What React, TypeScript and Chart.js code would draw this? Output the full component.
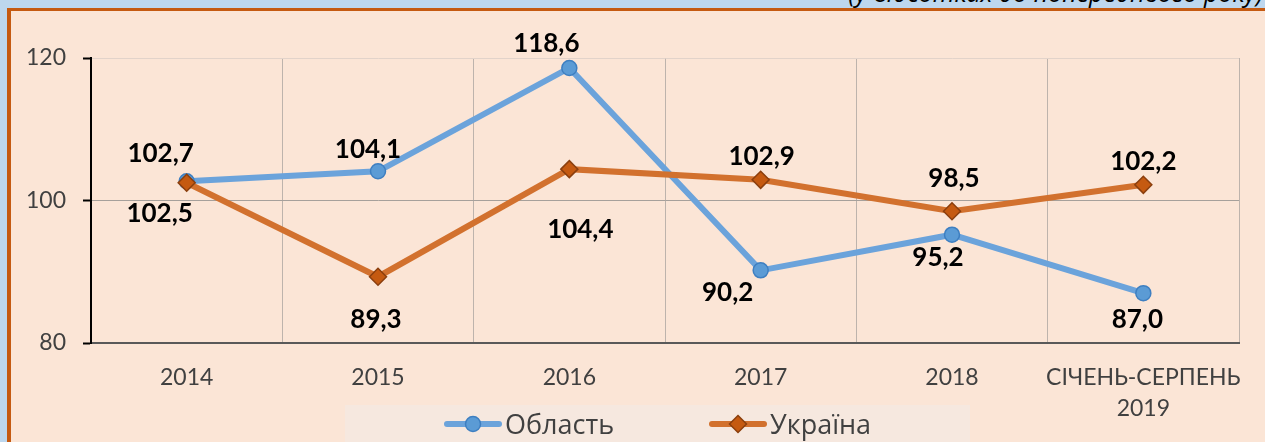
import React, { useEffect, useRef } from 'react';
import { Chart, registerables } from 'chart.js';

Chart.register(...registerables);

// ---- data ----
const categories: (string | string[])[] = ['2014', '2015', '2016', '2017', '2018', ['СІЧЕНЬ-СЕРПЕНЬ', '2019']];
const oblastValues = [102.7, 104.1, 118.6, 90.2, 95.2, 87.0];
const ukraineValues = [102.5, 89.3, 104.4, 102.9, 98.5, 102.2];
const seriesNames = ['Область', 'Україна'];
const yMin = 80;
const yMax = 120;
const yStep = 20;
const subtitle = '(у відсотках до попереднього року)';

// ---- styles ----
const BLUE_LINE = '#6BA3DB';
const BLUE_FILL = '#5B9BD5';
const BLUE_EDGE = '#3E7FC1';
const ORANGE_LINE = '#D2712E';
const ORANGE_FILL = '#C55A11';
const ORANGE_EDGE = '#8B3F0E';
const NUM_FONT = 'Lato, "Open Sans", sans-serif';
const TXT_FONT = '"Open Sans", "Noto Sans", sans-serif';

// label placement relative to each point (dx, dy of label centre)
const labelPlacement: number[][][] = [
  [[-26, -29], [-10, -23], [-23, -25], [-33, 21], [-14, 22], [-6, 25]],
  [[-27, 30], [-2, 42], [11, 59], [1, -24], [2, -34], [0, -24]],
];

const fmt = (v: number) => v.toFixed(1).replace('.', ',');

const dataLabelPlugin = {
  id: 'dataLabels',
  afterDatasetsDraw(chart: any) {
    const ctx = chart.ctx;
    ctx.save();
    ctx.font = `bold 26px ${NUM_FONT}`;
    ctx.fillStyle = '#000';
    ctx.textAlign = 'center';
    ctx.textBaseline = 'alphabetic';
    chart.data.datasets.forEach((ds: any, di: number) => {
      const meta = chart.getDatasetMeta(di);
      meta.data.forEach((pt: any, i: number) => {
        const [dx, dy] = labelPlacement[di][i];
        ctx.fillText(fmt(ds.data[i]), pt.x + dx, pt.y + dy + 9.4);
      });
    });
    ctx.restore();
  },
};

const legendPlugin = {
  id: 'customLegend',
  afterDraw(chart: any) {
    const ctx = chart.ctx;
    ctx.save();
    ctx.fillStyle = '#F6E8DF';
    ctx.fillRect(345, 405, 625, 45);
    const cy = 424;
    const items = [
      { x0: 447, label: chart.data.datasets[0].label, line: BLUE_LINE, fill: BLUE_FILL, edge: BLUE_EDGE, shape: 'circle' },
      { x0: 712, label: chart.data.datasets[1].label, line: ORANGE_LINE, fill: ORANGE_FILL, edge: ORANGE_EDGE, shape: 'diamond' },
    ];
    items.forEach((it) => {
      ctx.strokeStyle = it.line;
      ctx.lineWidth = 6;
      ctx.lineCap = 'round';
      ctx.beginPath();
      ctx.moveTo(it.x0, cy);
      ctx.lineTo(it.x0 + 52, cy);
      ctx.stroke();
      const mx = it.x0 + 26;
      ctx.fillStyle = it.fill;
      ctx.strokeStyle = it.edge;
      ctx.lineWidth = 1.5;
      ctx.beginPath();
      if (it.shape === 'circle') {
        ctx.arc(mx, cy, 7.5, 0, Math.PI * 2);
      } else {
        ctx.moveTo(mx, cy - 8.5);
        ctx.lineTo(mx + 8.5, cy);
        ctx.lineTo(mx, cy + 8.5);
        ctx.lineTo(mx - 8.5, cy);
        ctx.closePath();
      }
      ctx.fill();
      ctx.stroke();
      ctx.fillStyle = '#404040';
      ctx.font = `27px ${TXT_FONT}`;
      ctx.textAlign = 'left';
      ctx.textBaseline = 'alphabetic';
      ctx.fillText(it.label, it.x0 + 58, cy + 9.6);
    });
    ctx.restore();
  },
};

export default function App() {
  const canvasRef = useRef<HTMLCanvasElement | null>(null);

  useEffect(() => {
    document.body.style.margin = '0';
    const canvas = canvasRef.current;
    if (!canvas) return;
    const chart = new Chart(canvas, {
      type: 'line',
      data: {
        labels: categories,
        datasets: [
          {
            label: seriesNames[0],
            data: oblastValues,
            borderColor: BLUE_LINE,
            borderWidth: 6,
            backgroundColor: BLUE_FILL,
            pointBackgroundColor: BLUE_FILL,
            pointBorderColor: BLUE_EDGE,
            pointBorderWidth: 1.5,
            pointRadius: 7.5,
            pointStyle: 'circle',
            tension: 0,
            order: 1,
          },
          {
            label: seriesNames[1],
            data: ukraineValues,
            borderColor: ORANGE_LINE,
            borderWidth: 6,
            backgroundColor: ORANGE_FILL,
            pointBackgroundColor: ORANGE_FILL,
            pointBorderColor: ORANGE_EDGE,
            pointBorderWidth: 1.5,
            pointRadius: 8.5,
            pointStyle: 'rectRot',
            tension: 0,
            order: 0,
          },
        ],
      },
      options: {
        responsive: false,
        animation: false,
        devicePixelRatio: 1,
        layout: { padding: { top: 58, right: 26, left: 0, bottom: 0 } },
        plugins: {
          legend: { display: false },
          tooltip: { enabled: false },
        },
        scales: {
          x: {
            offset: true,
            grid: { offset: true, color: '#BDB3AC', lineWidth: 1, drawTicks: false },
            border: { color: '#595959', width: 2 },
            ticks: {
              color: '#404040',
              font: { family: NUM_FONT, size: 23, lineHeight: 1.35 },
              padding: 19,
              maxRotation: 0,
              autoSkip: false,
            },
            afterFit: (s: any) => {
              s.height = 99;
            },
          },
          y: {
            min: yMin,
            max: yMax,
            ticks: {
              stepSize: yStep,
              color: '#404040',
              font: { family: NUM_FONT, size: 23 },
              padding: 17,
            },
            grid: {
              color: (c: any) => (c.tick && c.tick.value === 100 ? '#A6A09B' : c.tick && c.tick.value === yMin ? 'rgba(0,0,0,0)' : '#E2D3CA'),
              lineWidth: 1,
              tickColor: '#000',
              tickLength: 8,
              tickWidth: 2,
            },
            border: { color: '#000', width: 2 },
            afterFit: (s: any) => {
              s.width = 91;
            },
          },
        },
      },
      plugins: [dataLabelPlugin, legendPlugin],
    });
    return () => chart.destroy();
  }, []);

  return (
    <div style={{ position: 'relative', width: 1265, height: 442, overflow: 'hidden', background: '#BDD7EE' }}>
      <div
        style={{
          position: 'absolute',
          right: 2,
          top: -20,
          fontFamily: TXT_FONT,
          fontStyle: 'italic',
          fontSize: 25,
          lineHeight: '25px',
          color: '#000',
          whiteSpace: 'nowrap',
        }}
      >
        {subtitle}
      </div>
      <div
        style={{
          position: 'absolute',
          left: 7,
          top: 8,
          width: 1400,
          height: 600,
          background: '#FBE5D6',
          borderLeft: '4px solid #C55A11',
          borderTop: '3px solid #C55A11',
        }}
      />
      <canvas
        ref={canvasRef}
        width={1265}
        height={442}
        style={{ position: 'absolute', left: 0, top: 0, width: 1265, height: 442 }}
      />
    </div>
  );
}
